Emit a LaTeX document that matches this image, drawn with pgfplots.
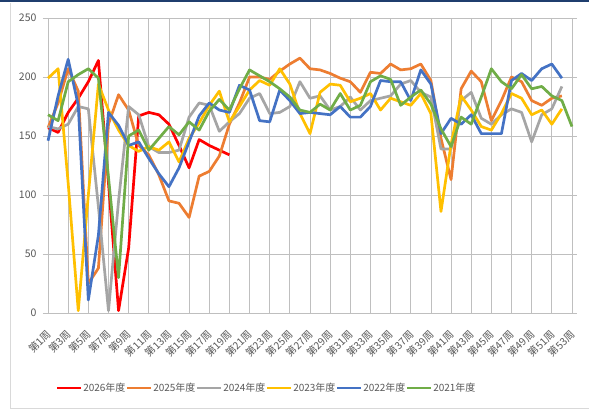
\documentclass[border=0pt]{standalone}
\usepackage{fontspec}
\setmainfont{Noto Sans CJK SC}
\usepackage{pgfplots}
\pgfplotsset{compat=1.18}
\usepackage{pgfplotstable}

\definecolor{cA}{HTML}{FF0000}
\definecolor{cB}{HTML}{ED7D31}
\definecolor{cC}{HTML}{A5A5A5}
\definecolor{cD}{HTML}{FFC000}
\definecolor{cE}{HTML}{4472C4}
\definecolor{cF}{HTML}{70AD47}
\definecolor{txt}{HTML}{595959}
\definecolor{grid}{HTML}{D9D9D9}
\definecolor{navy}{HTML}{1F3E6E}

\pgfplotstableread{
w  a    b    c    d    e    f
1  157  157  158  199  146  168
2  153  178  156  207  184  163
3  170  207  160  110  215  196
4  182  188  175  2    176  202
5  196  25   173  100  11   207
6  214  38   90   194  66   199
7  110  160  2    172  170  115
8  2    185  95   155  159  30
9  55   172  175  142  142  150
10 167  142  168  137  145  155
11 170  134  141  141  131  138
12 168  117  136  138  118  148
13 160  95   136  145  107  158
14 142  93   138  128  123  151
15 123  81   166  148  145  162
16 147  116  178  161  167  155
17 142  120  176  176  178  171
18 138  133  154  188  172  181
19 134  160  162  162  170  172
20 nan  178  169  175  193  190
21 nan  200  182  189  189  206
22 nan  200  186  197  163  201
23 nan  198  169  193  162  196
24 nan  205  170  207  189  190
25 nan  211  175  194  180  183
26 nan  216  196  169  169  172
27 nan  207  182  152  170  170
28 nan  206  184  187  169  177
29 nan  203  172  194  168  172
30 nan  199  175  193  175  186
31 nan  196  183  179  166  172
32 nan  187  172  182  166  176
33 nan  204  180  186  175  196
34 nan  203  182  172  197  201
35 nan  211  184  182  196  198
36 nan  206  194  179  196  176
37 nan  207  197  176  180  183
38 nan  211  187  186  206  189
39 nan  197  183  169  194  177
40 nan  148  139  86   152  156
41 nan  113  139  143  165  141
42 nan  190  180  184  160  166
43 nan  205  187  172  168  160
44 nan  196  165  158  152  183
45 nan  163  160  155  152  207
46 nan  180  168  169  152  196
47 nan  200  173  186  197  190
48 nan  196  170  182  203  202
49 nan  180  145  168  197  190
50 nan  176  168  172  207  192
51 nan  182  173  160  211  184
52 nan  184  192  173  199  180
53 nan  nan  nan  nan  nan  158
}\datatable

\begin{document}
\begin{tikzpicture}
\useasboundingbox (0pt,0pt) rectangle (589pt,412pt);
\fill[white] (0pt,0pt) rectangle (589pt,412pt);
\fill[navy] (0pt,409.5pt) rectangle (589pt,412pt);
\draw[grid, line width=0.8pt] (10pt,409pt) -- (10pt,4pt) -- (589pt,4pt);
\begin{axis}[
  at={(43pt,99pt)}, anchor=south west,
  scale only axis, width=534pt, height=295pt,
  xmin=0.5, xmax=53.5, ymin=0, ymax=250,
  ytick={0,50,...,250},
  xtick={1,3,...,53},
  xticklabels={第1周,第3周,第5周,第7周,第9周,第11周,第13周,第15周,第17周,第19周,第21周,第23周,第25周,第27周,第29周,第31周,第33周,第35周,第37周,第39周,第41周,第43周,第45周,第47周,第49周,第51周,第53周},
  major tick length=0pt,
  axis line style={draw=none},
  ymajorgrids, grid style={grid, line width=0.8pt},
  clip=false,
  /pgf/number format/assume math mode=true,
  yticklabel style={font=\fontsize{10.5}{12}\selectfont, text=txt, xshift=-3pt},
  xticklabel style={font=\fontsize{10.3}{12}\selectfont, text=txt, inner sep=0pt, xshift=1pt, yshift=-19pt, rotate=45, anchor=east},
  legend style={at={(axis description cs:0.4176,-0.254)}, anchor=center, draw=none, fill=none,
    legend columns=6, font=\fontsize{10}{12}\selectfont, text=txt,
    nodes={inner sep=0.5pt}, column sep=0pt,
    /tikz/every even column/.append style={column sep=0pt},
    /tikz/every odd column/.append style={column sep=0pt}},
  legend image code/.code={\draw[#1, line width=2.8pt] (0pt,0pt) -- (24pt,0pt);},
  every axis plot/.append style={line width=2.7pt, line join=round, mark=none},
]
\addplot[cA] table[x=w,y=a]{\datatable};
\addlegendentry{2026年度}
\addplot[cB] table[x=w,y=b]{\datatable};
\addlegendentry{2025年度}
\addplot[cC] table[x=w,y=c]{\datatable};
\addlegendentry{2024年度}
\addplot[cD] table[x=w,y=d]{\datatable};
\addlegendentry{2023年度}
\addplot[cE] table[x=w,y=e]{\datatable};
\addlegendentry{2022年度}
\addplot[cF] table[x=w,y=f]{\datatable};
\addlegendentry{2021年度}
\end{axis}
\end{tikzpicture}
\end{document}
